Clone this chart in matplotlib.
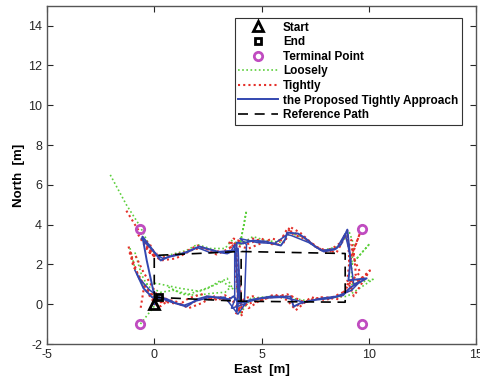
import numpy as np
import matplotlib
matplotlib.use("Agg")
import matplotlib.pyplot as plt

plt.rcParams["font.family"] = ["Liberation Sans", "DejaVu Sans"]
plt.rcParams["axes.unicode_minus"] = False

nan = np.nan

# reference path (two loops + shared middle edge)
ref_e = [0.0, 4.0, 8.9, 8.9, 4.0, 0.0, 0.0, nan, 4.05, 4.05]
ref_n = [0.35, 0.15, 0.1, 2.55, 2.65, 2.45, 0.35, nan, 0.1, 2.65]

# proposed tightly approach
blue_e = [0.0, 0.2, 0.6, 1.0, 1.5, 1.8, 2.0, 2.5, 3.1, 3.5, 3.7, 3.9, 3.85, 3.9, 3.85, 3.8,
          3.85, 4.1, 4.6, 5.2, 5.9, 6.1, 6.2, 6.7, 7.0, 7.5, 7.9, 8.4, 8.7, 9.0, 9.15, 9.05,
          9.9, 9.15, 8.8, 8.2, 7.5, 6.8, 6.5, 6.35, 5.4, 4.5, 4.0, 3.95, 3.9, 3.4, 3.1, 2.1,
          1.5, 0.7, 0.3, -0.55, -0.35, -0.05, 0.1, nan, -0.8, -0.5, -0.1, 0.2]
blue_n = [0.0, 0.35, 0.25, 0.05, -0.12, 0.1, 0.25, 0.4, 0.3, 0.25, 0.4, 0.1, -0.35, 0.5, 1.5, 2.5,
          3.1, 3.05, 3.2, 3.15, 2.95, 3.25, 3.6, 3.55, 3.35, 2.9, 2.65, 2.75, 3.0, 3.75, 2.2, 1.2,
          1.3, 0.85, 0.45, 0.3, 0.22, 0.05, -0.12, 0.38, 0.38, 0.22, 0.05, 1.5, 2.8, 2.55, 2.6, 2.9,
          2.6, 2.4, 2.2, 3.4, 2.2, 0.7, 0.4, nan, 1.5, 0.8, 0.35, 0.3]

# second proposed pass (doubled strands)
blue2_e = [-0.6, 0.1, 0.4, 1.2, 2.0, 2.6, 3.6, 3.75, 3.75, 3.6, 4.2, 4.3, 4.0, 4.8, 5.6,
           6.2, 6.4, 7.2, 7.8, 8.5, 8.9, 9.1, 9.3, 9.6, 9.2, 8.5, 7.8, 7.0, 6.0, 5.0, 4.3,
           3.9, 3.3, 2.6, 1.9, 1.4, 0.8, 0.3, -0.2, -0.7, -0.9]
blue2_n = [3.3, 2.5, 2.3, 2.5, 2.85, 2.6, 2.7, 3.0, 0.2, -0.2, 0.0, 3.0, 3.3, 3.1, 3.05,
           3.5, 3.45, 3.1, 2.7, 2.8, 3.55, 2.6, 1.0, 1.15, 0.7, 0.4, 0.3, 0.1, 0.35, 0.3, 0.1,
           -0.5, 0.35, 0.35, 0.15, -0.05, 0.1, 0.3, 0.7, 1.3, 1.7]

# tightly coupled
red_e = [-1.3, -0.9, -0.5, -0.2, 0.1, 0.2, 0.8, 1.4, 2.0, 2.5, 3.0, 3.4, 3.6, 3.9, 4.2, 4.6,
         5.2, 5.8, 6.0, 6.2, 6.5, 7.0, 7.5, 7.9, 8.3, 8.7, 9.0, 9.1, 9.6, 9.1, 9.0, 9.3, 10.05,
         9.1, 8.8, 8.3, 7.6, 7.2, 6.8, 6.5, 6.4, 5.8, 5.4, 4.8, 4.3, 4.0, 3.9, 3.8, 3.85, 3.8,
         3.9, 3.5, 3.0, 2.5, 2.0, 1.5, 1.0, 0.5, 0.1, -0.3, -0.7, -1.0, -1.1]
red_n = [4.7, 4.0, 3.3, 3.0, 2.4, 2.3, 2.45, 2.6, 2.95, 2.75, 2.65, 2.6, 2.9, 3.2, 3.1, 3.3,
         3.1, 3.0, 3.4, 3.8, 3.5, 3.3, 2.9, 2.7, 2.8, 3.1, 3.7, 2.1, 3.6, 2.2, 1.2, 0.4, 1.7,
         0.7, 0.5, 0.35, 0.3, 0.2, 0.0, -0.15, 0.4, 0.4, 0.35, 0.15, 0.0, -0.3, 0.5, 1.5, 2.6, 3.0,
         0.3, 0.3, 0.25, 0.35, 0.2, -0.1, 0.05, 0.3, 0.3, 0.7, 1.3, 2.0, 2.7]

# second tightly strand (scatter band)
red2_e = [-0.7, -0.4, -0.1, 0.3, 1.0, 1.8, 2.3, 2.9, 3.5, 3.7, 4.3, 5.0, 5.6, 6.3, 6.9, 7.7,
          8.5, 8.9, 9.3, 9.4, 8.6, 7.8, 7.0, 6.2, 5.0, 4.4, 4.2, 3.6, 2.8, 2.2, 1.6, 0.9, 0.3,
          -0.1, -0.5, -0.9, nan, -0.5, -0.65]
red2_n = [3.6, 3.1, 2.6, 2.2, 2.3, 2.75, 2.85, 2.5, 2.8, 3.3, 3.0, 3.3, 2.95, 3.7, 3.4, 2.8,
          2.6, 3.4, 2.6, 1.5, 0.25, 0.35, 0.1, 0.5, 0.25, -0.2, 0.2, 0.1, 0.4, 0.05, -0.2, 0.2, 0.1,
          0.9, 1.6, 2.5, nan, 0.7, -0.3]

# third tightly strand
red3_e = [-1.2, -1.0, -0.8, -0.5, -0.2, 0.0, 0.6, 1.2, 1.6, 2.2, 2.8, 3.3, 3.7, 4.1, 4.0,
          3.9, 3.7, 3.5, 4.0, 4.4, 5.5, 6.1, 6.3, 6.8, 7.3, 7.7, 8.1, 8.6, 8.9, 9.2, 9.3,
          9.6, 9.0, 9.5, 9.9, 9.2, 8.6, 8.0, 7.3, 6.6, 6.2, 5.6, 5.0, 4.6, 4.2, 3.8]
red3_n = [2.9, 2.2, 1.6, 1.0, 0.6, 0.2, 0.1, 0.0, 0.3, 0.5, 0.2, 0.45, 0.15, -0.6, 1.0,
          2.0, 2.9, 3.1, 2.9, 2.8, 3.3, 3.1, 3.9, 3.6, 3.1, 2.75, 2.6, 2.9, 3.5, 3.2, 2.3,
          1.6, 1.0, 1.2, 1.5, 0.8, 0.5, 0.2, 0.35, -0.3, 0.2, 0.5, 0.2, 0.4, 0.3, -0.5]

# fourth tightly strand (left wedge and arc)
red4_e = [-0.75, -0.3, 0.05, -0.45, -0.15, 0.15, nan, -1.15, -0.95, -0.6, -0.3, 0.05, 0.3, 0.6]
red4_n = [3.5, 2.7, 2.35, 3.1, 2.45, 2.55, nan, 2.6, 1.9, 1.1, 0.55, 0.0, -0.1, 0.15]

# loosely coupled
green_e = [-2.05, -1.3, -0.65, -0.3, 0.1, 0.8, 1.5, 2.0, 2.6, 3.3, 3.6, 4.0, 4.3, 4.0, 4.6,
           5.2, 6.0, 6.3, 7.0, 7.8, 8.6, 9.1, 9.3, 9.2, 10.05, 9.2, 9.2, 10.2, 9.0, 8.0, 7.0,
           6.4, 5.5, 4.5, 4.0, 3.9, 3.7, 3.1, 2.5, 2.1, 1.2, 0.1, -0.5, -0.9, -1.15, nan, 0.0, -0.65]
green_n = [6.5, 5.0, 3.9, 3.1, 2.4, 2.5, 2.7, 3.0, 2.8, 2.8, 3.2, 3.0, 4.7, 3.0, 3.4,
           3.2, 3.1, 3.6, 3.3, 2.7, 2.9, 3.6, 3.0, 2.0, 3.05, 2.0, 1.0, 1.25, 0.4, 0.3, 0.2,
           0.3, 0.4, 0.3, -0.5, 0.8, 0.75, 1.2, 0.8, 0.65, 0.8, 1.05, 1.0, 1.8, 2.9, nan, -0.1, -1.0]

# second loosely strand
green2_e = [-0.9, -0.6, -0.3, 0.3, 0.9, 1.6, 2.3, 2.9, 3.4, 3.6, 3.3, 2.7, 2.0, 1.3, 0.6]
green2_n = [2.6, 1.5, 0.9, 0.6, 0.7, 0.5, 0.75, 1.0, 1.3, 0.9, 0.6, 0.55, 0.45, 0.5, 0.9]

start_e, start_n = [0.0], [0.0]
end_e, end_n = [0.2], [0.35]
term_e = [-0.65, -0.65, 9.7, 9.7]
term_n = [3.8, -1.0, 3.8, -1.0]

dots = (0, (1, 1.5))

fig = plt.figure(figsize=(4.81, 3.88), dpi=100)
ax = fig.add_axes([0.0977, 0.1134, 0.892, 0.8716])

ax.plot(start_e, start_n, "^", ms=7, mfc="none", mec="k", mew=2, label="Start", zorder=6)
ax.plot(end_e, end_n, "s", ms=5, mfc="none", mec="k", mew=2, label="End", zorder=6)
ax.plot(term_e, term_n, "o", ms=6, mfc="none", mec="#c04cc0", mew=2, ls="none",
        label="Terminal Point", zorder=6)
ax.plot(green_e, green_n, ls=dots, color="#5ccf3c", lw=1.2, label="Loosely", zorder=2)
ax.plot(green2_e, green2_n, ls=dots, color="#5ccf3c", lw=1.2, zorder=2)
ax.plot(red_e, red_n, ls=dots, color="#e4302a", lw=1.5, label="Tightly", zorder=3)
ax.plot(red2_e, red2_n, ls=dots, color="#e4302a", lw=1.5, zorder=3)
ax.plot(red3_e, red3_n, ls=dots, color="#e4302a", lw=1.5, zorder=3)
ax.plot(red4_e, red4_n, ls=dots, color="#e4302a", lw=1.5, zorder=3)
ax.plot(blue_e, blue_n, "-", color="#3347b0", lw=1.4, label="the Proposed Tightly Approach", zorder=4)
ax.plot(blue2_e, blue2_n, "-", color="#3347b0", lw=1.1, zorder=4)
ax.plot(ref_e, ref_n, "--", color="k", lw=1.2, dashes=(6, 4), label="Reference Path", zorder=5)

ax.set_xlim(-5, 15)
ax.set_ylim(-2, 15)
ax.set_xticks([-5, 0, 5, 10, 15])
ax.set_yticks(range(-2, 15, 2))
ax.tick_params(direction="in", top=True, right=True, length=4, labelsize=9,
               colors="#262626", width=0.8)
for sp in ax.spines.values():
    sp.set_color("#555555")
    sp.set_linewidth(1.0)
ax.set_xlabel("East  [m]", fontsize=9.5, fontweight="bold", labelpad=2)
ax.set_ylabel("North  [m]", fontsize=9.5, fontweight="bold", labelpad=2)

leg = ax.legend(loc="upper right", bbox_to_anchor=(0.967, 0.964),
                prop={"weight": "bold", "size": 8.5}, handlelength=3.4, handletextpad=0.4,
                labelspacing=0.22, borderpad=0.3, borderaxespad=0, fancybox=False,
                framealpha=1, edgecolor="#333333")
leg.get_frame().set_linewidth(0.8)

fig.savefig("out.png", dpi=100)
